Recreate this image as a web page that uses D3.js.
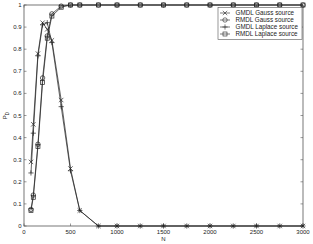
<!DOCTYPE html>
<html>
<head>
<meta charset="utf-8">
<script src="https://cdn.jsdelivr.net/npm/d3@7"></script>
<style>
  body { margin: 0; background: #fff; }
  svg { display: block; font-family: Arial, "Liberation Sans", sans-serif; }
</style>
</head>
<body>
<svg id="chart"></svg>
<script>
// sample sizes N
const nValues = [75, 100, 150, 200, 250, 300, 400, 500, 600, 800, 1000, 1250, 1500, 1750, 2000, 2250, 2500, 2750, 3000];

const gmdlGauss   = [0.29, 0.46, 0.78, 0.92, 0.89, 0.84, 0.57, 0.26, 0.07, 0, 0, 0, 0, 0, 0, 0, 0, 0, 0];
const rmdlGauss   = [0.075, 0.14, 0.37, 0.67, 0.86, 0.96, 0.995, 1, 1, 1, 1, 1, 1, 1, 1, 1, 1, 1, 1];
const gmdlLaplace = [0.24, 0.42, 0.77, 0.91, 0.92, 0.83, 0.54, 0.25, 0.07, 0, 0, 0, 0, 0, 0, 0, 0, 0, 0];
const rmdlLaplace = [0.07, 0.13, 0.36, 0.65, 0.85, 0.95, 0.99, 1, 1, 1, 1, 1, 1, 1, 1, 1, 1, 1, 1];

const seriesNames = ['GMDL Gauss source', 'RMDL Gauss source', 'GMDL Laplace source', 'RMDL Laplace source'];
const seriesMarkers = ['x', 'o', '+', 's'];
const seriesValues = [gmdlGauss, rmdlGauss, gmdlLaplace, rmdlLaplace];

const xTicks = [0, 500, 1000, 1500, 2000, 2500, 3000];
const yTicks = [0, 0.1, 0.2, 0.3, 0.4, 0.5, 0.6, 0.7, 0.8, 0.9, 1];

const width = 313, height = 244;
const margin = { top: 5, right: 10, bottom: 18, left: 24 };

const svg = d3.select('#chart')
    .attr('width', width)
    .attr('height', height);

const x = d3.scaleLinear().domain([0, 3000]).range([margin.left, width - margin.right]);
const y = d3.scaleLinear().domain([0, 1]).range([height - margin.bottom, margin.top]);

const ink = '#222';
const axisColor = '#555';

// frame with inward ticks, matlab style
const axes = svg.append('g').attr('class', 'axes');

axes.append('rect')
    .attr('x', x(0)).attr('y', y(1))
    .attr('width', x(3000) - x(0)).attr('height', y(0) - y(1))
    .attr('fill', 'none').attr('stroke', axisColor).attr('stroke-width', 0.8);

const tick = 2.5;
axes.selectAll('.xt')
    .data(xTicks)
    .join('g')
    .each(function (d) {
        const g = d3.select(this);
        g.append('line').attr('x1', x(d)).attr('x2', x(d)).attr('y1', y(0)).attr('y2', y(0) - tick);
        g.append('line').attr('x1', x(d)).attr('x2', x(d)).attr('y1', y(1)).attr('y2', y(1) + tick);
        g.append('text')
            .attr('x', x(d)).attr('y', y(0) + 8)
            .attr('text-anchor', 'middle')
            .attr('font-size', 6)
            .attr('fill', ink)
            .attr('stroke', 'none')
            .text(d);
    })
    .attr('stroke', axisColor).attr('stroke-width', 0.6);

axes.selectAll('.yt')
    .data(yTicks)
    .join('g')
    .each(function (d) {
        const g = d3.select(this);
        g.append('line').attr('x1', x(0)).attr('x2', x(0) + tick).attr('y1', y(d)).attr('y2', y(d));
        g.append('line').attr('x1', x(3000)).attr('x2', x(3000) - tick).attr('y1', y(d)).attr('y2', y(d));
        g.append('text')
            .attr('x', x(0) - 2.5).attr('y', y(d) + 2)
            .attr('text-anchor', 'end')
            .attr('font-size', 6)
            .attr('fill', ink)
            .attr('stroke', 'none')
            .text(d);
    })
    .attr('stroke', axisColor).attr('stroke-width', 0.6);

// axis labels
svg.append('text')
    .attr('x', x(1500)).attr('y', height - 3.5)
    .attr('text-anchor', 'middle')
    .attr('font-size', 6)
    .attr('fill', ink)
    .text('N');

const yl = svg.append('text')
    .attr('transform', `translate(${7},${y(0.5)}) rotate(-90)`)
    .attr('text-anchor', 'middle')
    .attr('font-size', 6)
    .attr('fill', ink);
yl.append('tspan').text('P');
yl.append('tspan').attr('font-size', 4.5).attr('dy', 1.5).text('D');

// markers
function drawMarker(g, type, cx, cy) {
    const r = 2.2;
    if (type === 'x') {
        g.append('path').attr('d', `M${cx - r},${cy - r}L${cx + r},${cy + r}M${cx - r},${cy + r}L${cx + r},${cy - r}`);
    } else if (type === '+') {
        g.append('path').attr('d', `M${cx - r - 0.4},${cy}L${cx + r + 0.4},${cy}M${cx},${cy - r - 0.4}L${cx},${cy + r + 0.4}`);
    } else if (type === 'o') {
        g.append('circle').attr('cx', cx).attr('cy', cy).attr('r', r).attr('fill', 'none');
    } else {
        g.append('rect').attr('x', cx - r + 0.2).attr('y', cy - r + 0.2)
            .attr('width', 2 * r - 0.4).attr('height', 2 * r - 0.4).attr('fill', 'none');
    }
}

const line = d3.line()
    .x(d => x(d[0]))
    .y(d => y(d[1]));

const plot = svg.append('g').attr('class', 'series');

seriesValues.forEach((vals, i) => {
    const pts = nValues.map((n, j) => [n, vals[j]]);
    const g = plot.append('g')
        .attr('stroke', ink)
        .attr('stroke-width', 0.7)
        .attr('fill', 'none');
    g.append('path').attr('d', line(pts));
    pts.forEach(p => drawMarker(g, seriesMarkers[i], x(p[0]), y(p[1])));
});

// legend
const lg = svg.append('g').attr('class', 'legend');
const lx = 218, ly = 7.5, lw = 84, lh = 32;
lg.append('rect')
    .attr('x', lx).attr('y', ly).attr('width', lw).attr('height', lh)
    .attr('fill', '#fff').attr('stroke', axisColor).attr('stroke-width', 0.6);

seriesNames.forEach((name, i) => {
    const yy = ly + 5.5 + i * 7;
    const g = lg.append('g').attr('stroke', ink).attr('stroke-width', 0.6).attr('fill', 'none');
    g.append('line').attr('x1', lx + 2).attr('x2', lx + 12).attr('y1', yy).attr('y2', yy);
    drawMarker(g, seriesMarkers[i], lx + 7, yy);
    lg.append('text')
        .attr('x', lx + 17.5).attr('y', yy + 2.1)
        .attr('font-size', 6.3)
        .attr('fill', ink)
        .text(name);
});
</script>
</body>
</html>
